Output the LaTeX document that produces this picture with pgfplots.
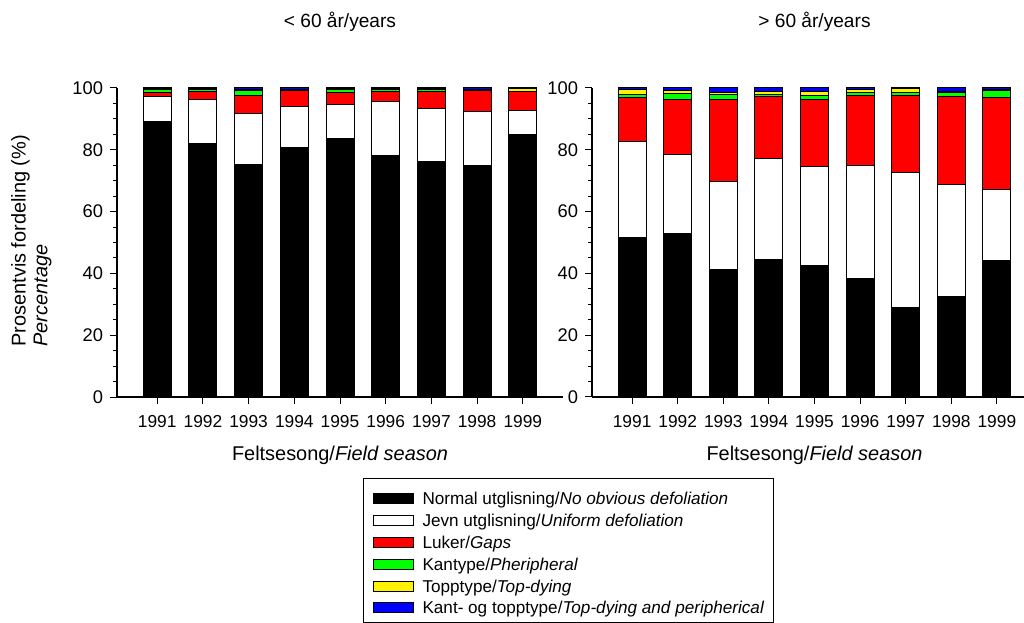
\documentclass[border=0pt]{standalone}
\usepackage{pgfplots}
\pgfplotsset{compat=1.18}
\usepackage{pgfplotstable}
\usepackage{fontspec}
\setmainfont{Liberation Sans}

\pgfplotstableread{
x N J L K T KT
1 89.0 8.2 1.5 0.9 0.2 0.2
2 82.2 14.0 2.8 0.4 0.3 0.3
3 75.4 16.3 6.0 1.5 0.3 0.5
4 80.9 13.1 5.2 0.1 0.1 0.6
5 83.8 11.0 3.6 1.2 0.2 0.2
6 78.3 17.2 3.4 0.7 0.2 0.2
7 76.1 17.3 5.5 0.6 0.4 0.1
8 74.8 17.5 7.0 0.1 0.1 0.5
9 84.8 8.0 6.0 0.2 0.8 0.2
}\young

\pgfplotstableread{
x N J L K T KT
1 51.5 31.2 14.2 1.0 1.5 0.6
2 52.8 25.8 17.7 2.0 0.8 0.9
3 41.4 28.3 26.5 1.7 0.8 1.3
4 44.4 32.8 19.9 0.8 1.1 1.0
5 42.7 32.0 21.7 1.2 1.4 1.0
6 38.2 36.8 22.6 0.9 1.0 0.5
7 29.1 43.5 25.1 0.8 1.2 0.3
8 32.4 36.5 28.3 1.3 0.5 1.0
9 44.3 23.0 29.6 2.3 0.4 0.4
}\old

\pgfplotsset{
  panel/.style={
    scale only axis,
    height=154.5bp,
    anchor=south west,
    ybar stacked,
    bar width=14bp,
    ymin=0, ymax=100,
    xmin=0.12, xmax=9.88,
    axis x line*=bottom,
    axis y line*=left,
    axis line style={line width=0.6bp},
    tick align=outside,
    major tick length=3.5bp,
    minor tick length=2bp,
    every tick/.style={black, line width=0.5bp},
    xtick={1,...,9},
    xticklabels={1991,1992,1993,1994,1995,1996,1997,1998,1999},
    ytick={0,20,...,100},
    minor y tick num=3,
    /pgf/number format/assume math mode=true,
    xticklabel style={font=\fontsize{8.7}{10}\selectfont, yshift=-2bp},
    yticklabel style={font=\fontsize{9.2}{11}\selectfont},
    label style={font=\fontsize{10}{11}\selectfont},
    title style={font=\fontsize{9.6}{11}\selectfont, at={(0.5,1)}, anchor=center, yshift=27bp},
    xlabel style={at={(0.5,0)}, anchor=center, yshift=-29bp},
    every axis plot/.append style={draw=black, line width=0.5bp},
  }
}

\begin{document}
\begin{tikzpicture}
\begin{axis}[panel,
  at={(58.5bp,113bp)},
  width=223bp,
  title={< 60 år/years},
  xlabel={Feltsesong/\textit{Field season}},
  ylabel={Prosentvis fordeling (\%)\\\textit{Percentage}},
  ylabel style={align=left, inner sep=0pt, at={(axis description cs:-0.1457,0.162)}, anchor=south west, rotate=0},
  legend style={at={(0.5516,-0.2621)}, anchor=north west, draw=black, line width=0.5bp,
    font=\fontsize{8.6}{10}\selectfont, inner xsep=4.5bp, inner ysep=2.5bp, row sep=-1.6bp,
    nodes={inner sep=0pt, text height=10.75bp, text depth=1.75bp}},
  legend cell align=left,
  legend image code/.code={\draw[#1, draw=black, line width=0.5bp] (0bp,-4bp) rectangle (20bp,1bp);},
]
\addplot[fill=black] table[x=x,y=N] {\young};
\addplot[fill=white] table[x=x,y=J] {\young};
\addplot[fill=red] table[x=x,y=L] {\young};
\addplot[fill={rgb,255:red,0;green,255;blue,0}] table[x=x,y=K] {\young};
\addplot[fill=yellow] table[x=x,y=T] {\young};
\addplot[fill=blue] table[x=x,y=KT] {\young};
\legend{\hspace{4.5bp}Normal utglisning/\textit{No obvious defoliation},
        \hspace{4.5bp}Jevn utglisning/\textit{Uniform defoliation},
        \hspace{4.5bp}Luker/\textit{Gaps},
        \hspace{4.5bp}Kantype/\textit{Pheripheral},
        \hspace{4.5bp}Topptype/\textit{Top-dying},
        \hspace{4.5bp}Kant- og topptype/\textit{Top-dying and peripherical}}
\end{axis}
\begin{axis}[panel,
  at={(296bp,113bp)},
  width=222.5bp,
  title={> 60 år/years},
  xlabel={Feltsesong/\textit{Field season}},
]
\addplot[fill=black] table[x=x,y=N] {\old};
\addplot[fill=white] table[x=x,y=J] {\old};
\addplot[fill=red] table[x=x,y=L] {\old};
\addplot[fill={rgb,255:red,0;green,255;blue,0}] table[x=x,y=K] {\old};
\addplot[fill=yellow] table[x=x,y=T] {\old};
\addplot[fill=blue] table[x=x,y=KT] {\old};
\end{axis}
\pgfresetboundingbox
\path[use as bounding box] (0,0) rectangle (512bp,311.5bp);
\end{tikzpicture}
\end{document}
